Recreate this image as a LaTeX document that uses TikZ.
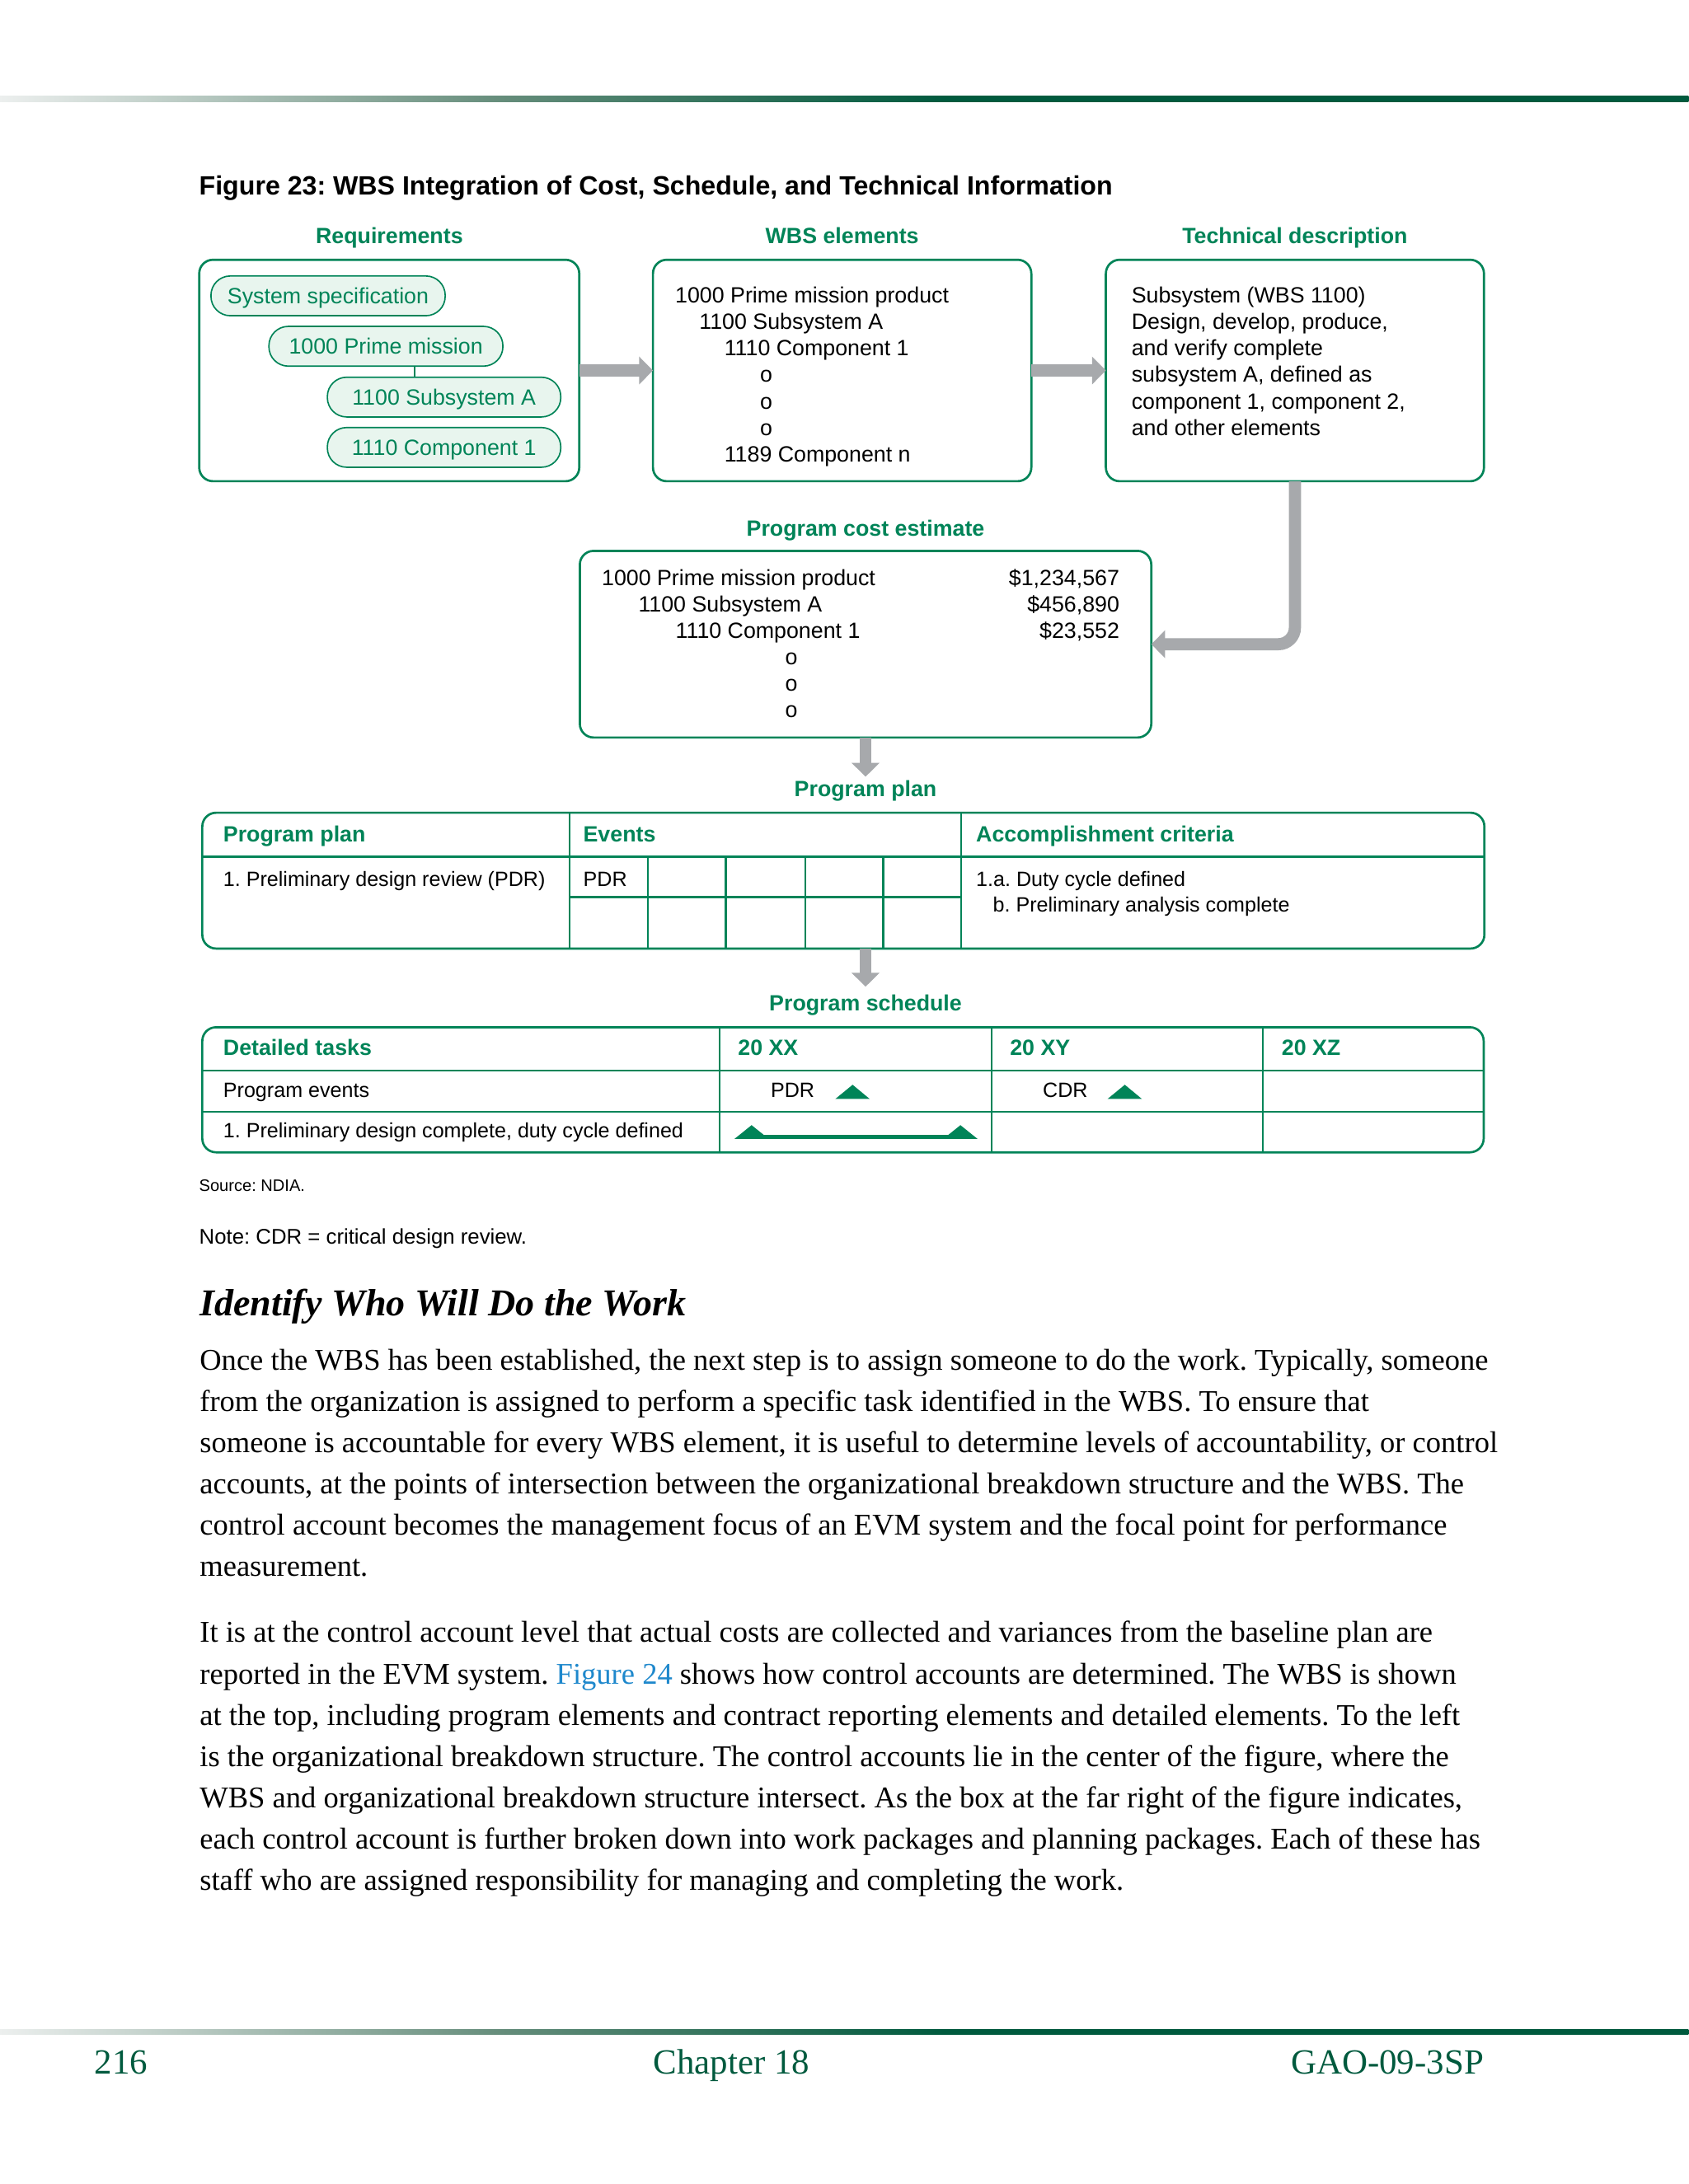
\documentclass[tikz,border=0pt]{standalone}
\usepackage{fontspec}
\setmainfont{Liberation Serif}
\setsansfont{Liberation Sans}
\usetikzlibrary{arrows.meta,fit,calc}
\definecolor{grn}{RGB}{0,132,88}
\definecolor{pillfill}{RGB}{232,245,238}
\definecolor{arrgray}{RGB}{167,169,172}
\definecolor{ruledark}{RGB}{0,90,62}
\definecolor{rulemid}{RGB}{100,140,122}
\definecolor{rulelight}{RGB}{236,239,238}
\definecolor{linkblue}{RGB}{30,136,204}
\pgfdeclarehorizontalshading{rulesh}{100bp}{color(0bp)=(rulelight); color(25bp)=(rulelight); color(40bp)=(rulemid); color(53bp)=(ruledark); color(100bp)=(ruledark)}
\newlength\calw
\newcommand\mycalib[4]{\settowidth\calw{#2\fontsize{10pt}{12pt}\selectfont #3}\pgfmathsetmacro#1{10*#4/\calw}\global\let#1#1}
\AtBeginDocument{%
\frenchspacing
\mycalib\bodysz{\rmfamily}{Once the WBS has been established, the next step is to assign someone to do the work. Typically, someone}{467}%
\mycalib\headsz{\rmfamily\bfseries\itshape}{Identify Who Will Do the Work}{176.2}%
\mycalib\footsz{\rmfamily}{Chapter 18}{56.6}%
}
\begin{document}
\begin{tikzpicture}[x=0.50495pt,y=-0.50495pt,
  box/.style={draw=grn, line width=0.8pt, rounded corners=5pt, inner sep=0pt, outer sep=0pt},
  pill/.style={draw=grn, fill=pillfill, line width=0.5pt, rounded corners=7pt, inner sep=0pt, outer sep=0pt,
     minimum height=14.4pt, text height=5.73pt, text depth=0pt, text=grn,
     font=\sffamily\fontsize{8pt}{9.6pt}\selectfont},
  txt/.style={inner sep=0pt, outer sep=0pt, anchor=base west, font=\sffamily\fontsize{8pt}{9.6pt}\selectfont},
  txtr/.style={txt, anchor=base east},
  txtc/.style={txt, anchor=base},
  tsm/.style={txt, font=\sffamily\fontsize{7.5pt}{9pt}\selectfont},
  hdr/.style={inner sep=0pt, outer sep=0pt, anchor=base, text=grn, font=\sffamily\bfseries\fontsize{8pt}{9.6pt}\selectfont},
  thdr/.style={txt, text=grn, font=\sffamily\bfseries\fontsize{8pt}{9.6pt}\selectfont},
  garrow/.style={draw=arrgray, line width=4.4pt, -{Triangle[width=9.8pt,length=5pt]}},
  tline/.style={draw=grn, line width=0.7pt},
  body/.style={inner sep=0pt, outer sep=0pt, anchor=base west, font=\rmfamily\fontsize{\bodysz pt}{15pt}\selectfont},
  foot/.style={inner sep=0pt, outer sep=0pt, anchor=base west, text=ruledark, font=\rmfamily\fontsize{\footsz pt}{16pt}\selectfont}
]
\useasboundingbox (0,0) rectangle (1212,1568);
\fill[white] (0,0) rectangle (1212,1568);

% top rule
\shade[shading=rulesh] (0,69) rectangle (1212,73);

% title
\node[txt, font=\sffamily\bfseries\fontsize{9.6pt}{11.5pt}\selectfont] (title) at (143,140) {Figure 23: WBS Integration of Cost, Schedule, and Technical Information};

% headers
\node[hdr] (hreq) at (279.5,174.6) {Requirements};
\node[hdr] (hwbs) at (604.5,174.6) {WBS elements};
\node[hdr] (htech) at (929.5,174.6) {Technical description};
\node[hdr] (hcost) at (621.3,384.7) {Program cost estimate};
\node[hdr] (lplan) at (621.3,571.7) {Program plan};
\node[hdr] (lsched) at (621.3,726) {Program schedule};

% boxes
\node[box, fit={(143,186.5) (415.8,345.5)}] (b1) {};
\node[box, fit={(468.7,186.5) (740.3,345.5)}] (b2) {};
\node[box, fit={(793.8,186.5) (1065.2,345.5)}] (b3) {};
\node[box, fit={(416.2,395.5) (826.4,529.5)}] (b4) {};

% pills
\node[pill, minimum width=84.9pt] (p1) at (235.5,212.4) {System specification};
\node[pill, minimum width=84.8pt] (p2) at (277,248.6) {1000 Prime mission};
\node[pill, minimum width=84.6pt] (p3) at (318.75,285.1) {1100 Subsystem A};
\node[pill, minimum width=84.6pt] (p4) at (318.75,321.2) {1110 Component 1};
\coordinate (pm) at ($(p2.south)!0.5!(p3.north)$);
\draw[draw=grn, line width=0.6pt] (pm |- p2.south) -- (pm |- p3.north);

% WBS elements text
\node[txt] (w1) at (484.7,217.5) {1000 Prime mission product};
\node[txt] (w2) at (502,236.5) {1100 Subsystem A};
\node[txt] (w3) at (520,255.5) {1110 Component 1};
\node[txtc] (w4) at (550,274.5) {o};
\node[txtc] (w5) at (550,293.5) {o};
\node[txtc] (w6) at (550,312.5) {o};
\node[txt] (w7) at (520,331.5) {1189 Component n};

% technical description text
\node[txt] (d1) at (812.3,217.5) {Subsystem (WBS 1100)};
\node[txt] (d2) at (812.3,236.5) {Design, develop, produce,};
\node[txt] (d3) at (812.3,255.5) {and verify complete};
\node[txt] (d4) at (812.3,274.5) {subsystem A, defined as};
\node[txt] (d5) at (812.3,293.5) {component 1, component 2,};
\node[txt] (d6) at (812.3,312.5) {and other elements};

% cost estimate text
\node[txt] (c1) at (432,420.3) {1000 Prime mission product};
\node[txt] (c2) at (458.3,439.3) {1100 Subsystem A};
\node[txt] (c3) at (485,458.3) {1110 Component 1};
\node[txtc] (c4) at (568,477.3) {o};
\node[txtc] (c5) at (568,496.3) {o};
\node[txtc] (c6) at (568,515.3) {o};
\node[txtr] (a1) at (803.5,420.3) {\$1,234,567};
\node[txtr] (a2) at (803.5,439.3) {\$456,890};
\node[txtr] (a3) at (803.5,458.3) {\$23,552};

% arrows
\draw[garrow] (b1.east) -- (b2.west);
\draw[garrow] (b2.east) -- (b3.west);
\draw[garrow, rounded corners=6pt] (b3.south) |- (b4.east);
\draw[garrow, shorten >=1.3pt] (b4.south) -- (lplan.north);

% program plan table
\node[box, line width=0.8pt, fit={(145.2,583.5) (1065.5,681)}] (t1) {};
\draw[tline] (145.2,615) -- (1065.5,615);
\draw[tline] (409,583.5) -- (409,681);
\draw[tline] (690,583.5) -- (690,681);
\foreach \xx in {465,521,578,634} \draw[tline] (\xx,615) -- (\xx,681);
\draw[tline] (409,644) -- (690,644);
\node[thdr] (tp1) at (160.3,604.6) {Program plan};
\node[thdr] (tp2) at (418.7,604.6) {Events};
\node[thdr] (tp3) at (700.7,604.6) {Accomplishment criteria};
\node[tsm] (tp4) at (160.3,636.2) {1. Preliminary design review (PDR)};
\node[tsm] (tp5) at (418.7,636.2) {PDR};
\node[tsm] (tp6) at (700.7,636.2) {1.a. Duty cycle defined};
\node[tsm] (tp7) at (712.8,654.5) {b. Preliminary analysis complete};

\draw[garrow, shorten >=3.1pt] (t1.south -| lsched.north) -- (lsched.north);

% program schedule table
\node[box, line width=0.8pt, fit={(145.2,737.5) (1065,827.3)}] (t2) {};
\draw[tline] (145.2,768.8) -- (1065,768.8);
\draw[tline] (145.2,798.3) -- (1065,798.3);
\foreach \xx in {516.7,711.8,906.6} \draw[tline] (\xx,737.5) -- (\xx,827.3);
\node[thdr] (ts1) at (160.3,757.9) {Detailed tasks};
\node[thdr] (ts2) at (529.8,757.9) {20 XX};
\node[thdr] (ts3) at (725,757.9) {20 XY};
\node[thdr] (ts4) at (920,757.9) {20 XZ};
\node[tsm] (ts5) at (160.3,788) {Program events};
\node[tsm] (ts6) at (553.3,788) {PDR};
\node[tsm] (ts7) at (748.6,788) {CDR};
\node[tsm] (ts8) at (160.3,817) {1. Preliminary design complete, duty cycle defined};
\fill[grn] (599.6,789) -- (612,778.8) -- (624.3,789) -- cycle;
\fill[grn] (795,789) -- (807.4,778.8) -- (819.7,789) -- cycle;
\fill[grn] (527.3,817.6) -- (539.5,807.8) -- (551.7,817.6) -- cycle;
\fill[grn] (677.2,817.6) -- (689.4,807.8) -- (701.6,817.6) -- cycle;
\fill[grn] (539.5,814.6) rectangle (689.4,817.6);

% source and note
\node[txt, font=\sffamily\fontsize{6pt}{7pt}\selectfont] (src) at (143,855.5) {Source: NDIA.};
\node[txt, font=\sffamily\fontsize{7.7pt}{9pt}\selectfont] (note) at (143,893) {Note: CDR = critical design review.};

% heading
\node[inner sep=0pt, outer sep=0pt, anchor=base west, font=\rmfamily\bfseries\itshape\fontsize{\headsz pt}{18pt}\selectfont] (head) at (143.4,944.5) {Identify Who Will Do the Work};

% paragraph 1
\node[body] (l1) at (143.4,983.4) {Once the WBS has been established, the next step is to assign someone to do the work. Typically, someone};
\node[body] (l2) at (143.4,1013) {from the organization is assigned to perform a specific task identified in the WBS. To ensure that};
\node[body] (l3) at (143.4,1042.6) {someone is accountable for every WBS element, it is useful to determine levels of accountability, or control};
\node[body] (l4) at (143.4,1072.2) {accounts, at the points of intersection between the organizational breakdown structure and the WBS. The};
\node[body] (l5) at (143.4,1101.8) {control account becomes the management focus of an EVM system and the focal point for performance};
\node[body] (l6) at (143.4,1131.4) {measurement.};

% paragraph 2
\node[body] (m1) at (143.4,1179.2) {It is at the control account level that actual costs are collected and variances from the baseline plan are};
\node[body] (m2) at (143.4,1208.9) {reported in the EVM system. \textcolor{linkblue}{Figure 24} shows how control accounts are determined. The WBS is shown};
\node[body] (m3) at (143.4,1238.5) {at the top, including program elements and contract reporting elements and detailed elements. To the left};
\node[body] (m4) at (143.4,1268.2) {is the organizational breakdown structure. The control accounts lie in the center of the figure, where the};
\node[body] (m5) at (143.4,1297.9) {WBS and organizational breakdown structure intersect. As the box at the far right of the figure indicates,};
\node[body] (m6) at (143.4,1327.5) {each control account is further broken down into work packages and planning packages. Each of these has};
\node[body] (m7) at (143.4,1357.2) {staff who are assigned responsibility for managing and completing the work.};

% bottom rule
\shade[shading=rulesh] (0,1456.8) rectangle (1212,1460.7);

% footer
\node[foot] (f1) at (68,1489) {216};
\node[foot] (f2) at (469,1489) {Chapter 18};
\node[foot, anchor=base east] (f3) at (1065,1489) {GAO-09-3SP};
\end{tikzpicture}
\end{document}
